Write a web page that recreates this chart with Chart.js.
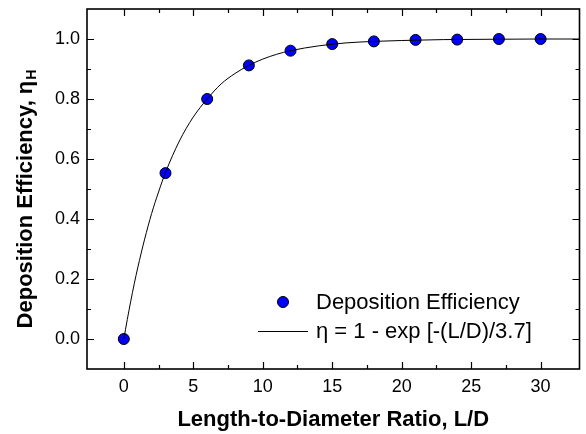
<!DOCTYPE html>
<html>
<head>
<meta charset="utf-8">
<script src="https://cdn.jsdelivr.net/npm/chart.js@4"></script>
<style>
  html, body { margin: 0; padding: 0; background: #fff; }
</style>
</head>
<body>
<canvas id="myChart" width="586" height="434"></canvas>
<script>
(function(){
  'use strict';

  // measured points
  const ratioLD = [0, 3, 6, 9, 12, 15, 18, 21, 24, 27, 30];
  const efficiency = [0, 0.553, 0.80, 0.912, 0.961, 0.983, 0.992, 0.997, 0.998, 1.0, 1.0];

  // fitted curve
  const fitLD = [0, 0.25, 0.5, 0.75, 1, 1.5, 2, 2.5, 3, 4, 5, 6, 7, 8, 9, 10, 11, 12, 14, 16, 18, 20, 23, 26, 30, 33];
  const fitEta = [0, 0.065, 0.126, 0.184, 0.237, 0.333, 0.418, 0.49, 0.555, 0.66, 0.74, 0.80, 0.85, 0.885, 0.912, 0.933, 0.949, 0.961, 0.977, 0.987, 0.992, 0.995, 0.998, 0.999, 1.0, 1.0];

  const xTickValues = [0, 5, 10, 15, 20, 25, 30];
  const xMinorValues = [2.5, 7.5, 12.5, 17.5, 22.5, 27.5];
  const yTickValues = [0, 0.2, 0.4, 0.6, 0.8, 1.0];
  const yMinorValues = [0.1, 0.3, 0.5, 0.7, 0.9];

  const legendLabels = ['Deposition Efficiency', '\u03B7 = 1 - exp [-(L/D)/3.7]'];
  const xTitle = 'Length-to-Diameter Ratio, L/D';
  const yTitle = 'Deposition Efficiency, \u03B7';
  const yTitleSub = 'H';

  const fontName = '"Liberation Sans", Arial, sans-serif';
  const pointBlue = '#0000ff';

  // frame with inward ticks on all four sides
  const framePlugin = {
    id: 'frame',
    afterDraw(chart){
      const ctx = chart.ctx;
      const a = chart.chartArea;
      const xs = chart.scales.x;
      const ys = chart.scales.y;
      ctx.save();
      ctx.strokeStyle = '#000';
      ctx.lineWidth = 1.6;
      ctx.strokeRect(a.left, a.top, a.right - a.left, a.bottom - a.top);
      ctx.lineWidth = 1.2;
      ctx.beginPath();
      function xTick(v, len){
        const px = Math.round(xs.getPixelForValue(v)) + 0.5;
        ctx.moveTo(px, a.bottom); ctx.lineTo(px, a.bottom - len);
        ctx.moveTo(px, a.top); ctx.lineTo(px, a.top + len);
      }
      function yTick(v, len){
        const py = Math.round(ys.getPixelForValue(v)) + 0.5;
        ctx.moveTo(a.left, py); ctx.lineTo(a.left + len, py);
        ctx.moveTo(a.right, py); ctx.lineTo(a.right - len, py);
      }
      xTickValues.forEach(v => xTick(v, 7));
      xMinorValues.forEach(v => xTick(v, 4));
      yTickValues.forEach(v => yTick(v, 7));
      yMinorValues.forEach(v => yTick(v, 4));
      ctx.stroke();

      // y axis title with subscript
      ctx.fillStyle = '#000';
      ctx.font = 'bold 22px ' + fontName;
      const mainW = ctx.measureText(yTitle).width;
      ctx.font = 'bold 14px ' + fontName;
      const subW = ctx.measureText(yTitleSub).width;
      const total = mainW + subW + 1;
      const cy = (a.top + a.bottom) / 2 + 10;
      ctx.translate(32, cy);
      ctx.rotate(-Math.PI / 2);
      ctx.textBaseline = 'alphabetic';
      ctx.textAlign = 'left';
      ctx.font = 'bold 22px ' + fontName;
      ctx.fillText(yTitle, -total / 2, 0);
      ctx.font = 'bold 14px ' + fontName;
      ctx.fillText(yTitleSub, -total / 2 + mainW + 1, 4);
      ctx.restore();
    }
  };

  // legend inside the plot
  const legendPlugin = {
    id: 'innerLegend',
    afterDraw(chart){
      const ctx = chart.ctx;
      ctx.save();
      ctx.beginPath();
      ctx.arc(283, 302, 5.5, 0, Math.PI * 2);
      ctx.fillStyle = pointBlue;
      ctx.fill();
      ctx.lineWidth = 1;
      ctx.strokeStyle = '#000';
      ctx.stroke();

      ctx.beginPath();
      ctx.moveTo(258, 331.5);
      ctx.lineTo(308, 331.5);
      ctx.stroke();

      ctx.fillStyle = '#000';
      ctx.font = '22px ' + fontName;
      ctx.textBaseline = 'middle';
      ctx.textAlign = 'left';
      ctx.fillText(legendLabels[0], 316, 303);
      ctx.fillText(legendLabels[1], 316, 332);
      ctx.restore();
    }
  };

  const ctx = document.getElementById('myChart').getContext('2d');
  const myChart = new Chart(ctx, {
    type: 'scatter',
    data: {
      datasets: [{
        label: legendLabels[1],
        data: fitLD.map((x, i) => ({x: x, y: fitEta[i]})),
        showLine: true,
        borderColor: '#000',
        borderWidth: 1,
        pointRadius: 0,
        cubicInterpolationMode: 'monotone'
      }, {
        label: legendLabels[0],
        data: ratioLD.map((x, i) => ({x: x, y: efficiency[i]})),
        pointRadius: 5.5,
        pointBackgroundColor: pointBlue,
        pointBorderColor: '#000',
        pointBorderWidth: 1
      }]
    },
    options: {
      responsive: false,
      animation: false,
      devicePixelRatio: 1,
      layout: { padding: { top: 9, right: 5, left: 0, bottom: 0 } },
      plugins: {
        legend: { display: false },
        tooltip: { enabled: false }
      },
      scales: {
        x: {
          type: 'linear',
          min: -2.65,
          max: 32.8,
          grid: { display: false, drawTicks: false },
          border: { display: false },
          afterBuildTicks: s => { s.ticks = xTickValues.map(v => ({value: v})); },
          afterFit: s => { s.height = 65; s.paddingLeft = 0; s.paddingRight = 0; },
          ticks: {
            color: '#000',
            padding: 7,
            font: { family: fontName, size: 18 }
          },
          title: {
            display: true,
            text: xTitle,
            color: '#000',
            padding: { top: 0, bottom: 1 },
            font: { family: fontName, size: 22, weight: 'bold' }
          }
        },
        y: {
          min: -0.1,
          max: 1.1,
          grid: { display: false, drawTicks: false },
          border: { display: false },
          afterBuildTicks: s => { s.ticks = yTickValues.map(v => ({value: v})); },
          afterFit: s => { s.width = 87; s.paddingTop = 0; s.paddingBottom = 0; },
          ticks: {
            color: '#000',
            padding: 7,
            font: { family: fontName, size: 18 },
            callback: v => v.toFixed(1)
          }
        }
      }
    },
    plugins: [framePlugin, legendPlugin]
  });
})();
</script>
</body>
</html>
